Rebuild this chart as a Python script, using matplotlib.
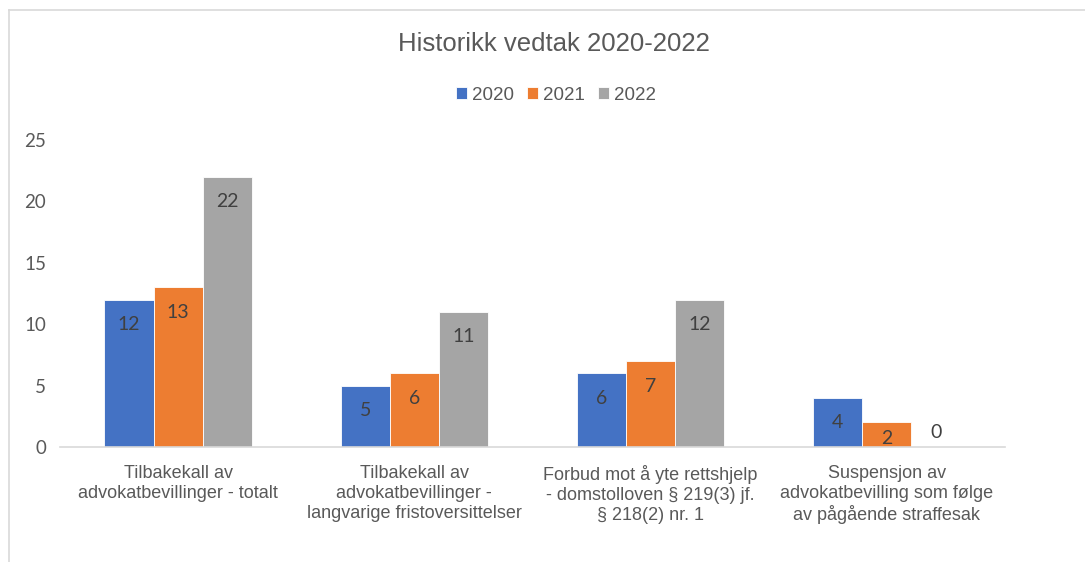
import matplotlib.pyplot as plt
from matplotlib.lines import Line2D
import numpy as np

# Data
kategorier = [
    'Tilbakekall av\nadvokatbevillinger - totalt',
    'Tilbakekall av\nadvokatbevillinger -\nlangvarige fristoversittelser',
    'Forbud mot å yte rettshjelp\n- domstolloven § 219(3) jf.\n§ 218(2) nr. 1',
    'Suspensjon av\nadvokatbevilling som følge\nav pågående straffesak',
]
aar = ['2020', '2021', '2022']
v2020 = [12, 5, 6, 4]
v2021 = [13, 6, 7, 2]
v2022 = [22, 11, 12, 0]
farger = ['#4472C4', '#ED7D31', '#A5A5A5']

fig = plt.figure(figsize=(10.85, 5.62), dpi=100)
ax = fig.add_axes([60 / 1085, 115 / 562, (1005 - 60) / 1085, 307 / 562])

x = np.arange(len(kategorier))
bredde = 0.208
serier = [v2020, v2021, v2022]
for i, (verdier, farge, navn) in enumerate(zip(serier, farger, aar)):
    bars = ax.bar(x + (i - 1) * bredde, verdier, bredde, color=farge, label=navn,
                  edgecolor='white', linewidth=0.6)
    # data labels inside end
    for b, v in zip(bars, verdier):
        hpx = v / 25 * 307
        if v == 0:
            off = 15
        else:
            off = -min(25, hpx - 8)
        ax.annotate(str(v), (b.get_x() + b.get_width() / 2, v),
                    xytext=(0, off * 0.72), textcoords='offset points',
                    ha='center', va='center', fontsize=14, color='#404040',
                    family='Lato')

ax.set_xlim(-0.5, 3.5)
ax.set_ylim(0, 25)
ax.set_yticks([0, 5, 10, 15, 20, 25])
ax.set_xticks(x)
ax.set_xticklabels(kategorier, fontsize=13, color='#595959', family='Liberation Sans',
                   linespacing=1.22, va='top')
for spine in ['top', 'right', 'left']:
    ax.spines[spine].set_visible(False)
ax.spines['bottom'].set_color('#D9D9D9')
ax.spines['bottom'].set_linewidth(1.2)
ax.tick_params(axis='both', length=0)
ax.tick_params(axis='x', pad=13)
ax.tick_params(axis='y', pad=10, labelsize=13.5, labelcolor='#595959')
for t in ax.get_yticklabels():
    t.set_family('Lato')

fig.text(0.511, 1 - 44 / 562, 'Historikk vedtak 2020-2022', ha='center', va='center',
         fontsize=18.5, color='#595959', family='Liberation Sans')
fig.legend(loc='center', bbox_to_anchor=(556 / 1085, 1 - 95 / 562), ncol=3,
           frameon=False, handlelength=0.6, handleheight=0.6,
           handletextpad=0.25, columnspacing=0.7, labelcolor='#595959',
           prop={'family': 'Liberation Sans', 'size': 13.5})

# ramme
fig.add_artist(Line2D([9 / 1085, 1], [1 - 10 / 562] * 2, color='#D9D9D9', lw=1.2))
fig.add_artist(Line2D([9 / 1085] * 2, [0, 1 - 10 / 562], color='#D9D9D9', lw=1.2))

fig.savefig('out.png', dpi=100, facecolor='white')
